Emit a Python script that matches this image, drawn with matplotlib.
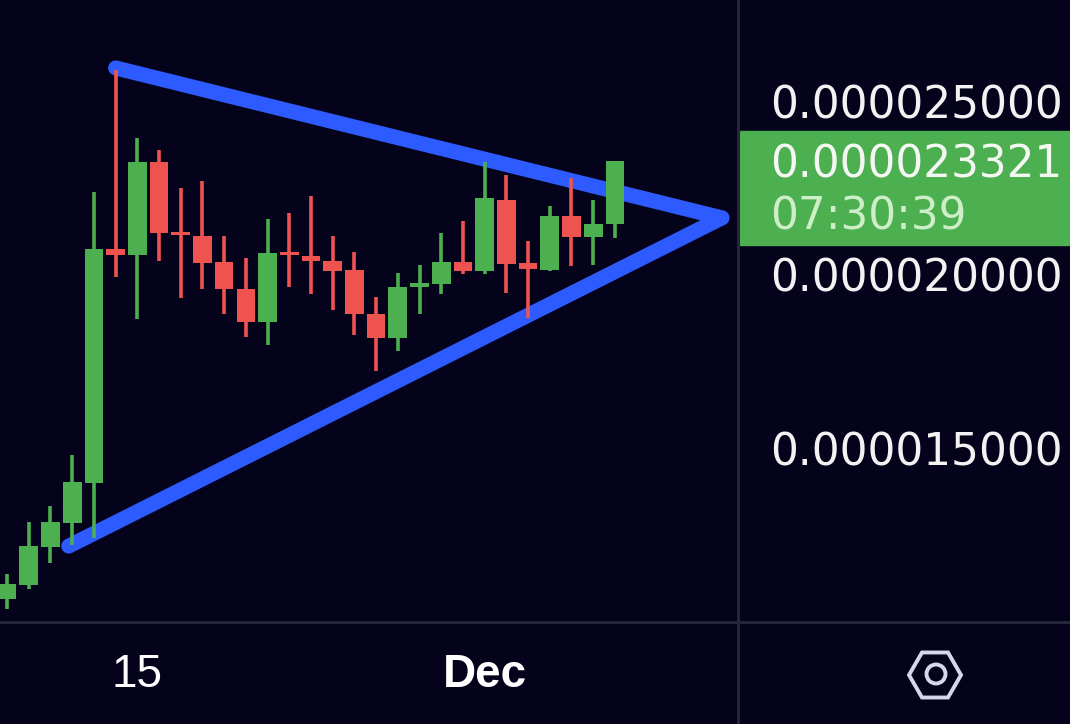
import matplotlib
matplotlib.use("Agg")
import matplotlib.pyplot as plt
import matplotlib.transforms as mtransforms
from matplotlib.lines import Line2D
from matplotlib.patches import Rectangle, RegularPolygon, Circle

# ====================== Données (prix en 1e-6) ======================
opens  = [10.71, 11.11, 12.20, 12.90, 14.05, 20.79, 20.62, 23.30, 21.28, 21.17,
          20.42, 19.64, 18.69, 20.71, 20.59, 20.45, 20.19, 18.92, 18.23, 19.70,
          19.78, 20.42, 20.16, 22.20, 20.39, 20.19, 21.74, 21.14, 21.51]
highs  = [11.43, 12.93, 13.39, 14.86, 22.44, 25.95, 23.99, 23.65, 22.55, 22.75,
          21.17, 20.53, 21.66, 21.83, 22.32, 21.17, 20.71, 19.41, 20.10, 20.33,
          21.25, 21.60, 23.30, 22.93, 21.02, 22.03, 22.84, 22.20, 23.33]
lows   = [10.42, 10.99, 11.74, 12.26, 12.46, 19.99, 18.78, 20.45, 19.38, 19.64,
          18.92, 18.26, 18.03, 19.70, 19.50, 19.03, 18.31, 17.28, 17.85, 18.92,
          19.50, 20.07, 20.07, 19.52, 18.80, 20.16, 20.30, 20.33, 21.11]
closes = [11.14, 12.23, 12.93, 14.08, 20.79, 20.62, 23.30, 21.25, 21.20, 20.39,
          19.64, 18.69, 20.68, 20.62, 20.45, 20.16, 18.92, 18.23, 19.70, 19.81,
          20.42, 20.16, 22.26, 20.36, 20.22, 21.74, 21.14, 21.51, 23.321]

# triangle (x = index de bougie, y = prix)
haut_x, haut_y = [5, 32.93], [26.01, 21.69]
bas_x, bas_y = [2.84, 32.93], [12.23, 21.69]

prix_ticks = [25, 20, 15]
prix_labels = ['0.000025000', '0.000020000', '0.000015000']
prix_actuel = 23.321
prix_actuel_txt = '0.000023321'
compte_rebours = '07:30:39'
x_ticks = [6, 22]
x_labels = ['15', 'Dec']

# ====================== Style ======================
fond = '#04031b'
vert = '#4caf50'
rouge = '#ef5350'
bleu = '#2d5bff'
sep = '#26263a'

fig = plt.figure(figsize=(10.7, 7.24), dpi=100, facecolor=fond)
ax = fig.add_axes([0, 102 / 724, 738 / 1070, 622 / 724])
ax.set_facecolor(fond)
ax.set_xlim(-0.3256, 33.67)
ax.set_ylim(10.043, 27.968)
for s in ax.spines.values():
    s.set_visible(False)
ax.set_yticks([])

# lignes de tendance
ax.plot(haut_x, haut_y, color=bleu, lw=10.8, solid_capstyle='round', zorder=1)
ax.plot(bas_x, bas_y, color=bleu, lw=10.8, solid_capstyle='round', zorder=1)

# bougies
for i in range(len(opens)):
    o, h, l, c = opens[i], highs[i], lows[i], closes[i]
    col = vert if c >= o else rouge
    ax.vlines(i, l, h, color=col, lw=2.6, zorder=2)
    bas = min(o, c)
    hauteur = max(abs(c - o), 0.09)
    ax.bar(i, hauteur, bottom=bas, width=0.86, color=col, zorder=3)

# axe du temps
ax.set_xticks(x_ticks)
ax.set_xticklabels(x_labels, color='white', fontsize=33, family='Liberation Sans')
ax.get_xticklabels()[1].set_fontweight('bold')
ax.tick_params(axis='x', length=0, pad=22)

# échelle des prix
trans = mtransforms.blended_transform_factory(fig.transFigure, ax.transData)
for p, t in zip(prix_ticks, prix_labels):
    fig.text(770 / 1070, p - 0.08, t, transform=trans, color='#f2f2f2',
             fontsize=31.5, va='center', ha='left')

fig.patches.append(Rectangle((740 / 1070, 20.91), 330 / 1070, 24.19 - 20.91,
                             transform=trans, color=vert, zorder=1))
fig.text(770 / 1070, prix_actuel - 0.1, prix_actuel_txt, transform=trans,
         color='#f4f7f2', fontsize=31.5, va='center', ha='left', zorder=2)
fig.text(770 / 1070, prix_actuel - 1.6, compte_rebours, transform=trans,
         color='#cdeec6', fontsize=31.5, va='center', ha='left', zorder=2)

# séparateurs
fig.add_artist(Line2D([738 / 1070, 738 / 1070], [0, 1], color=sep, lw=2.2,
                      transform=fig.transFigure))
fig.add_artist(Line2D([0, 1], [102 / 724, 102 / 724], color=sep, lw=2.2,
                      transform=fig.transFigure))

# icône réglages (coordonnées en pixels)
pix = mtransforms.IdentityTransform()
fig.patches.append(RegularPolygon((935, 49), 6, radius=26, orientation=3.14159 / 6,
                                  fill=False, edgecolor='#d6d6ee', lw=2.8,
                                  transform=pix))
fig.patches.append(Circle((936, 50), 9.5, fill=False, edgecolor='#d6d6ee',
                          lw=2.8, transform=pix))

fig.savefig('out.png', dpi=100, facecolor=fond)
